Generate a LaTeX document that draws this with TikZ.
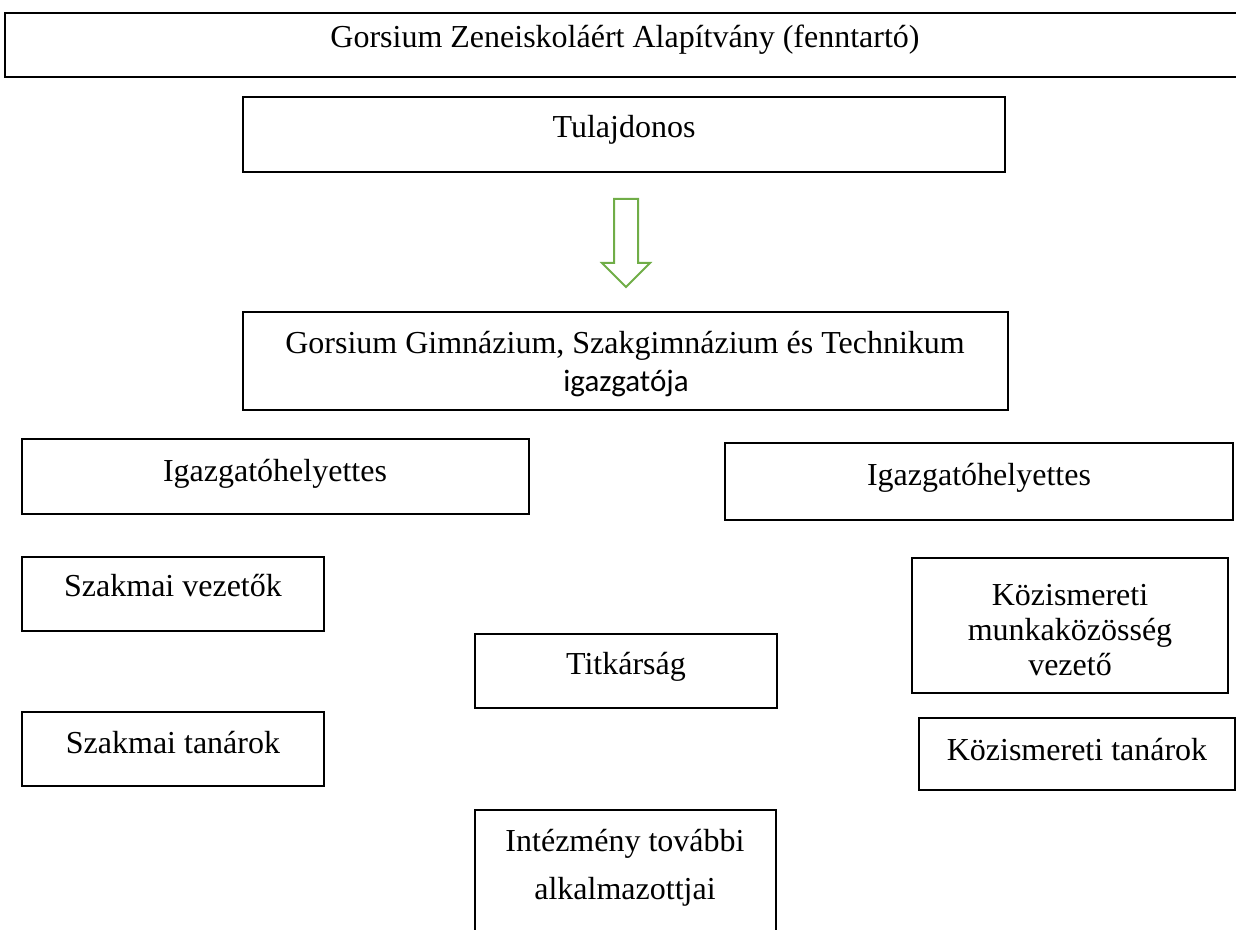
\documentclass[tikz,border=0pt]{standalone}
\usepackage{fontspec}
\setmainfont{Liberation Serif}
\newfontfamily\calibrifont{Carlito}
\usetikzlibrary{fit}
\definecolor{arrowgreen}{RGB}{112,173,71}
\begin{document}
\begin{tikzpicture}[x=0.5pt,y=-0.5pt,
  box/.style={draw, line width=0.9pt, inner sep=0pt},
  topbox/.style={draw, line width=1.3pt, inner sep=0pt},
  lbl/.style={anchor=base, inner sep=0pt, font=\fontsize{16}{19}\selectfont},
  blockarrow/.style={draw=arrowgreen, line width=1pt, line join=miter}]
\clip (0,0) rectangle (1236,930);
% founder
\node[topbox, fit={(5,13) (1245,77)}] (found) {};
\node[lbl] (foundt) at (625,48) {Gorsium Zeneiskoláért Alapítvány (fenntartó)};
% owner
\node[box, fit={(243,97) (1005,172)}] (owner) {};
\node[lbl] (ownert) at (624,138) {Tulajdonos};
% block arrow
\draw[blockarrow] (614,199) -- (638,199) -- (638,263) -- (650,263) -- (626,287) -- (602,263) -- (614,263) -- cycle;
% director
\node[box, fit={(243,312) (1008,410)}] (dir) {};
\node[lbl] (dirt1) at (625,354) {Gorsium Gimnázium, Szakgimnázium és Technikum};
\node[lbl, font=\calibrifont\fontsize{15.5}{19}\selectfont] (dirt2) at (626,392) {igazgatója};
% deputies
\node[box, fit={(22,439) (529,514)}] (depl) {};
\node[lbl] (deplt) at (275,481) {Igazgatóhelyettes};
\node[box, fit={(725,443) (1233,520)}] (depr) {};
\node[lbl] (deprt) at (979,485) {Igazgatóhelyettes};
% left column
\node[box, fit={(22,557) (324,631)}] (szv) {};
\node[lbl] (szvt) at (173,596) {Szakmai vezetők};
\node[box, fit={(22,712) (324,786)}] (szt) {};
\node[lbl] (sztt) at (173,753) {Szakmai tanárok};
% middle column
\node[box, fit={(475,634) (777,708)}] (titk) {};
\node[lbl] (titkt) at (626,674) {Titkárság};
\node[box, fit={(475,810) (776,945)}] (tov) {};
\node[lbl] (tovt1) at (625,851) {Intézmény további};
\node[lbl] (tovt2) at (625,899) {alkalmazottjai};
% right column
\node[box, fit={(912,558) (1228,693)}] (kmv) {};
\node[lbl] (kmvt1) at (1070,605) {Közismereti};
\node[lbl] (kmvt2) at (1070,640) {munkaközösség};
\node[lbl] (kmvt3) at (1070,675) {vezető};
\node[box, fit={(919,718) (1235,790)}] (kt) {};
\node[lbl] (ktt) at (1077,760) {Közismereti tanárok};
\end{tikzpicture}
\end{document}
